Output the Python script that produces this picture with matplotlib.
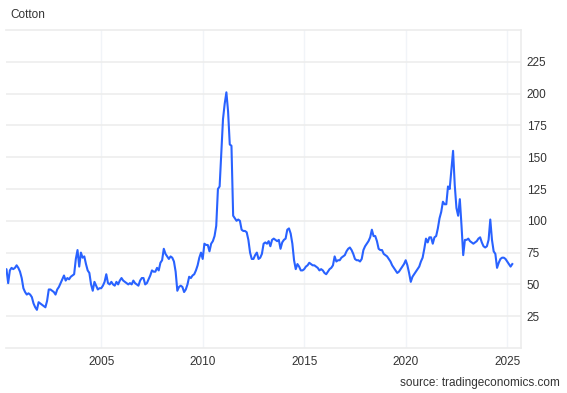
#!/usr/bin/env python3

import numpy as np
import matplotlib
matplotlib.use('Agg')
import matplotlib.pyplot as plt

# monthly cotton price (USd/lbs), starting April 2000
start_year = 2000
start_month = 4
prices = [
    59, 62, 51, 61, 63, 62, 63, 65, 63,                 # 2000 (Apr-Dec)
    60, 55, 47, 44, 42, 43, 42, 40, 35, 32, 30, 36,     # 2001
    35, 34, 33, 32, 37, 46, 46, 45, 44, 42, 46, 48,     # 2002
    51, 54, 57, 53, 55, 54, 56, 57, 58, 70, 77, 64,     # 2003
    75, 71, 72, 66, 61, 59, 50, 45, 52, 49, 46, 47,     # 2004
    47, 49, 52, 58, 51, 50, 52, 50, 49, 52, 50, 53,     # 2005
    55, 53, 52, 51, 50, 51, 50, 53, 51, 50, 49, 53,     # 2006
    55, 55, 50, 51, 54, 57, 61, 60, 60, 63, 61, 67,     # 2007
    69, 78, 74, 72, 70, 72, 71, 68, 60, 45, 48, 49,     # 2008
    48, 44, 46, 50, 56, 55, 57, 58, 61, 65, 71, 75,     # 2009
    70, 82, 81, 81, 76, 82, 84, 88, 96, 125, 127, 154,  # 2010
    180, 192, 201, 186, 160, 159, 104, 102, 100, 101, 100, 93,  # 2011
    92, 92, 91, 85, 75, 70, 70, 73, 75, 70, 71, 74,     # 2012
    82, 83, 82, 84, 80, 85, 86, 85, 84, 85, 78, 83,     # 2013
    85, 86, 93, 94, 90, 82, 69, 62, 66, 64, 61, 61,     # 2014
    62, 64, 65, 67, 66, 65, 65, 64, 63, 61, 62, 61,     # 2015
    59, 58, 60, 62, 63, 65, 72, 68, 69, 69, 71, 72,     # 2016
    73, 76, 78, 79, 77, 74, 70, 69, 69, 68, 70, 77,     # 2017
    80, 82, 84, 87, 93, 88, 88, 84, 78, 77, 77, 74,     # 2018
    73, 72, 70, 68, 65, 63, 61, 59, 60, 62, 64, 66,     # 2019
    69, 65, 59, 52, 56, 58, 60, 62, 64, 68, 71, 78,     # 2020
    86, 83, 87, 87, 82, 87, 88, 94, 102, 107, 115, 113, # 2021
    113, 127, 125, 140, 155, 128, 110, 104, 117, 96, 73, 85,  # 2022
    85, 86, 84, 83, 82, 83, 84, 86, 87, 83, 80, 79,     # 2023
    80, 85, 101, 85, 76, 74, 63, 67, 70, 71, 71, 70,    # 2024
    68, 66, 64, 66,                                     # 2025 (Jan-Apr)
]

year_ticks = [2005, 2010, 2015, 2020, 2025]
value_ticks = [25, 50, 75, 100, 125, 150, 175, 200, 225]

title = 'Cotton'
source = 'source: tradingeconomics.com'

plt.rcParams['font.family'] = ['Liberation Sans', 'DejaVu Sans']

x = start_year + (start_month - 1) / 12 + np.arange(len(prices)) / 12

fig = plt.figure(figsize=(5.67, 3.93), dpi=100)
ax = fig.add_axes([6 / 567, 1 - 348 / 393, 515 / 567, 318 / 393])

ax.plot(x, prices, color='#2962ff', linewidth=1.5, solid_joinstyle='round')

ax.set_xlim(2000.31, 2025.68)
ax.set_ylim(0, 250)

ax.set_xticks(year_ticks)
ax.set_yticks(value_ticks)
ax.yaxis.tick_right()
ax.tick_params(axis='both', length=0, labelsize=8.5, labelcolor='#333333')
ax.tick_params(axis='x', pad=6)
ax.tick_params(axis='y', pad=4)

ax.grid(axis='y', color='#ededed', linewidth=1.2)
ax.grid(axis='x', color='#f1f4f8', linewidth=1.0)

ax.spines['left'].set_visible(False)
for side in ['top', 'bottom', 'right']:
    ax.spines[side].set_color('#ececec')
    ax.spines[side].set_linewidth(1.2)

fig.text(10 / 567, 1 - 15 / 393, title, fontsize=8.5, color='#333333',
         ha='left', va='center')
fig.text(560 / 567, 1 - 383 / 393, source, fontsize=8.5, color='#333333',
         ha='right', va='center')

plt.savefig('out.png', dpi=100)
